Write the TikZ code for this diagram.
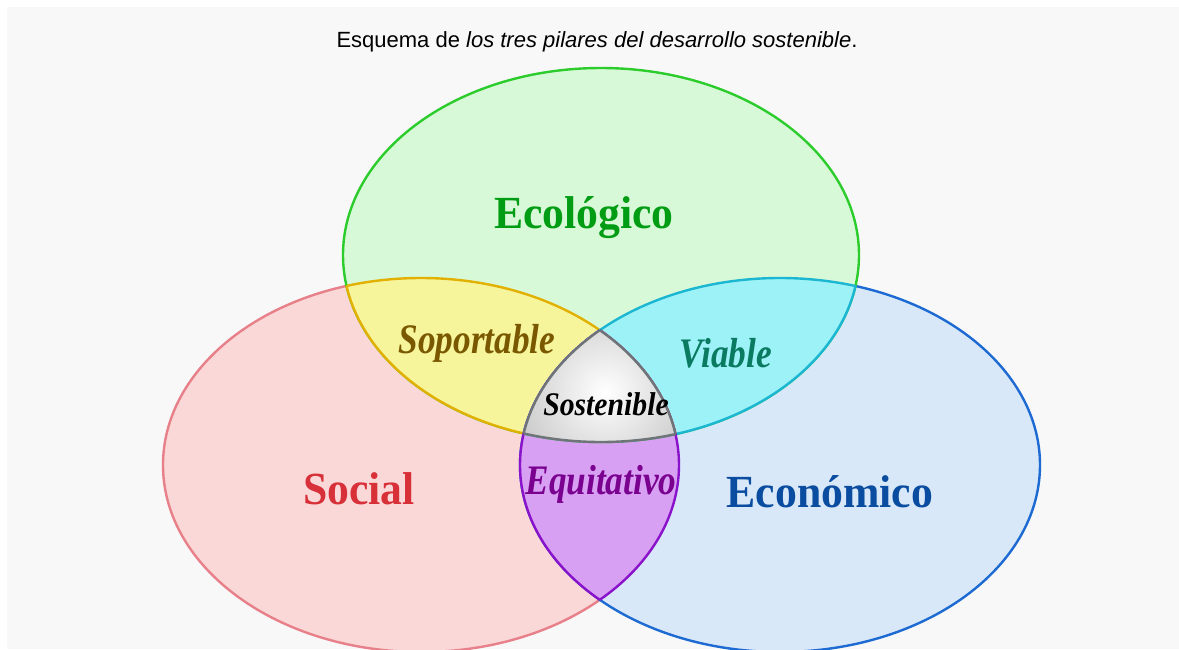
\documentclass[tikz,border=0pt]{standalone}
\usepackage{fontspec}
\setmainfont{Liberation Serif}
\newfontfamily\titlefont{Liberation Sans}
\definecolor{panel}{HTML}{F8F8F8}
\definecolor{gfill}{HTML}{D8F9D8}
\definecolor{gline}{HTML}{2DCC2D}
\definecolor{rfill}{HTML}{FAD8D8}
\definecolor{rline}{HTML}{E8808A}
\definecolor{bfill}{HTML}{D8E8F9}
\definecolor{bline}{HTML}{1C6AD2}
\definecolor{yfill}{HTML}{F6F59C}
\definecolor{yline}{HTML}{E2B000}
\definecolor{cfill}{HTML}{9CF2F7}
\definecolor{cline}{HTML}{1AB6D2}
\definecolor{pfill}{HTML}{D8A0F2}
\definecolor{pline}{HTML}{8A12CA}
\definecolor{sline}{HTML}{6E7478}
\definecolor{souter}{HTML}{A0A0A0}
\definecolor{tgreen}{HTML}{009C14}
\definecolor{tred}{HTML}{D83038}
\definecolor{tblue}{HTML}{0A4CA0}
\definecolor{tbrown}{HTML}{7A5800}
\definecolor{tteal}{HTML}{0A7A60}
\definecolor{tpurple}{HTML}{7A0090}
\def\Gell{(601,255) ellipse [x radius=258pt, y radius=187pt]}
\def\Rell{(421,465) ellipse [x radius=258pt, y radius=187pt]}
\def\Bell{(780,465) ellipse [x radius=260pt, y radius=187pt]}
\newcommand\bigfont{\fontsize{46}{50}\selectfont\bfseries}
\newcommand\itfont{\fontsize{42}{48}\selectfont\bfseries\itshape}
\newcommand\smitfont{\fontsize{33}{38}\selectfont\bfseries\itshape}
\begin{document}
\begin{tikzpicture}[x=1pt,y=-1pt,
  edge/.style={line width=2.4pt},
  lbl/.style={anchor=base, inner sep=0pt}]
\useasboundingbox (0,0) rectangle (1179,649);
\fill[white] (0,0) rectangle (1179,649);
\fill[panel] (7,7) rectangle (1179,649);
\clip (7,7) rectangle (1179,649);
% main ellipses
\filldraw[fill=rfill,draw=rline,edge] \Rell;
\filldraw[fill=bfill,draw=bline,edge] \Bell;
\filldraw[fill=gfill,draw=gline,edge] \Gell;
% pairwise fills
\begin{scope}\clip \Gell; \fill[yfill] \Rell; \end{scope}
\begin{scope}\clip \Gell; \fill[cfill] \Bell; \end{scope}
\begin{scope}\clip \Rell; \fill[pfill] \Bell; \end{scope}
% pairwise strokes
\begin{scope}\clip \Gell; \draw[yline,edge] \Rell; \end{scope}
\begin{scope}\clip \Rell; \draw[yline,edge] \Gell; \end{scope}
\begin{scope}\clip \Gell; \draw[cline,edge] \Bell; \end{scope}
\begin{scope}\clip \Bell; \draw[cline,edge] \Gell; \end{scope}
\begin{scope}\clip \Rell; \draw[pline,edge] \Bell; \end{scope}
\begin{scope}\clip \Bell; \draw[pline,edge] \Rell; \end{scope}
% triple region
\begin{scope}\clip \Gell; \clip \Rell; \clip \Bell;
  \shade[inner color=white, outer color=souter] (605,392) circle (165pt);
\end{scope}
\begin{scope}\clip \Gell; \clip \Rell; \draw[sline,edge] \Bell; \end{scope}
\begin{scope}\clip \Gell; \clip \Bell; \draw[sline,edge] \Rell; \end{scope}
\begin{scope}\clip \Rell; \clip \Bell; \draw[sline,edge] \Gell; \end{scope}
% labels
\node[lbl, font=\titlefont\fontsize{22}{26}\selectfont] (title) at (597,47)
  {Esquema de \textit{los tres pilares del desarrollo sostenible}.};
\node[lbl, text=tgreen, font=\bigfont] (eco) at (584,228) {\scalebox{0.95}[1]{Ecológico}};
\node[lbl, text=tred, font=\bigfont] (soc) at (359,504) {\scalebox{0.95}[1]{Social}};
\node[lbl, text=tblue, font=\bigfont] (econ) at (830,507) {\scalebox{0.95}[1]{Económico}};
\node[lbl, text=tbrown, font=\itfont] (sop) at (477,353) {\scalebox{0.84}[1]{Soportable}};
\node[lbl, text=tteal, font=\itfont] (via) at (726,367) {\scalebox{0.84}[1]{Viable}};
\node[lbl, text=tpurple, font=\itfont] (equ) at (601,494) {\scalebox{0.84}[1]{Equitativo}};
\node[lbl, text=black, font=\smitfont] (sos) at (606,415) {\scalebox{0.9}[1]{Sostenible}};
\end{tikzpicture}
\end{document}
